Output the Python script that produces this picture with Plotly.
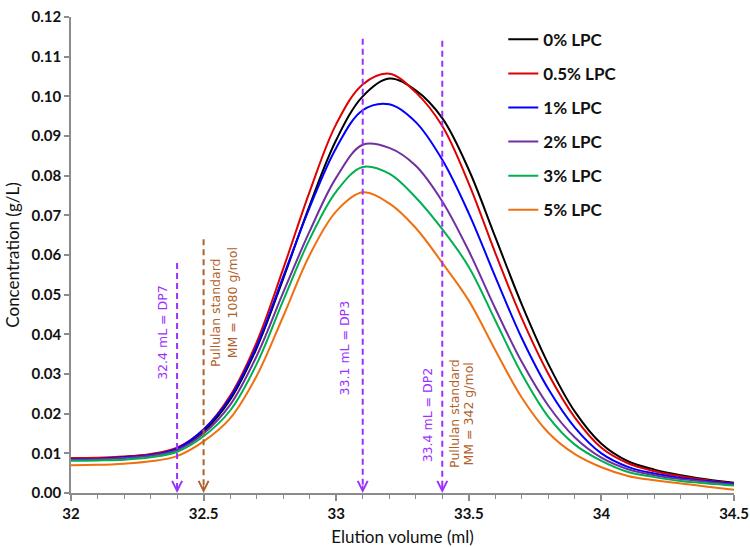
import plotly.graph_objects as go

# ---------------- data ----------------
volume = [32.0, 32.1, 32.2, 32.3, 32.4, 32.5, 32.6, 32.7, 32.8, 32.9,
          33.0, 33.1, 33.2, 33.3, 33.4, 33.5, 33.6, 33.7, 33.8, 33.9,
          34.0, 34.1, 34.2, 34.3, 34.4, 34.5]

lpc_0 = [0.0087, 0.0088, 0.0091, 0.0097, 0.0112, 0.0155, 0.0235, 0.0365, 0.0540, 0.0725,
         0.0890, 0.1000, 0.1045, 0.1015, 0.0945, 0.0815, 0.0645, 0.0475, 0.0325, 0.0205,
         0.0124, 0.0080, 0.0059, 0.0045, 0.0034, 0.0026]
lpc_05 = [0.0088, 0.0089, 0.0092, 0.0098, 0.0114, 0.0160, 0.0245, 0.0380, 0.0565, 0.0760,
          0.0930, 0.1030, 0.1057, 0.1010, 0.0925, 0.0780, 0.0605, 0.0440, 0.0300, 0.0190,
          0.0114, 0.0075, 0.0055, 0.0042, 0.0032, 0.0024]
lpc_1 = [0.0085, 0.0086, 0.0090, 0.0096, 0.0112, 0.0160, 0.0240, 0.0370, 0.0545, 0.0720,
         0.0870, 0.0965, 0.0980, 0.0935, 0.0840, 0.0705, 0.0545, 0.0390, 0.0262, 0.0165,
         0.0100, 0.0066, 0.0049, 0.0038, 0.0030, 0.0023]
lpc_2 = [0.0084, 0.0085, 0.0088, 0.0094, 0.0108, 0.0150, 0.0222, 0.0345, 0.0505, 0.0660,
         0.0795, 0.0878, 0.0870, 0.0825, 0.0735, 0.0610, 0.0465, 0.0330, 0.0220, 0.0140,
         0.0089, 0.0060, 0.0045, 0.0035, 0.0028, 0.0021]
lpc_3 = [0.0081, 0.0082, 0.0084, 0.0090, 0.0104, 0.0143, 0.0208, 0.0325, 0.0485, 0.0640,
         0.0760, 0.0822, 0.0805, 0.0745, 0.0665, 0.0570, 0.0435, 0.0300, 0.0192, 0.0122,
         0.0081, 0.0053, 0.0040, 0.0030, 0.0024, 0.0019]
lpc_5 = [0.0070, 0.0071, 0.0074, 0.0080, 0.0093, 0.0130, 0.0188, 0.0295, 0.0445, 0.0600,
         0.0710, 0.0758, 0.0730, 0.0668, 0.0580, 0.0485, 0.0360, 0.0240, 0.0152, 0.0098,
         0.0065, 0.0043, 0.0032, 0.0024, 0.0016, 0.0008]

series_names = ["0% LPC", "0.5% LPC", "1% LPC", "2% LPC", "3% LPC", "5% LPC"]
series_values = [lpc_0, lpc_05, lpc_1, lpc_2, lpc_3, lpc_5]
series_colors = ["#000000", "#e00000", "#0000ff", "#7030a0", "#00b050", "#f07010"]

# marker lines (elution volume, top of dashed line, colour)
marker_vol = [32.4, 32.5, 33.1, 33.4]
marker_top = [0.058, 0.064, 0.1145, 0.114]
PURPLE = "#9b30ff"
BROWN = "#b0602a"
marker_col = [PURPLE, BROWN, PURPLE, PURPLE]

# labels (x, y, text, colour)
label_x = [32.345, 32.545, 32.61, 33.03, 33.345, 33.445, 33.5]
label_y = [0.0405, 0.0455, 0.0480, 0.0365, 0.0195, 0.0200, 0.0200]
label_text = ["32.4 mL = DP7", "Pullulan standard", "MM = 1080 g/mol",
              "33.1 mL = DP3", "33.4 mL = DP2", "Pullulan standard", "MM = 342 g/mol"]
label_col = [PURPLE, BROWN, BROWN, PURPLE, PURPLE, BROWN, BROWN]

# ---------------- figure ----------------
fig = go.Figure()
for name, vals, col in zip(series_names, series_values, series_colors):
    fig.add_trace(go.Scatter(
        x=volume, y=vals, name=name, mode="lines",
        line=dict(color=col, width=2, shape="spline", smoothing=1.0),
        legendgroup=name,
    ))

for v, top, col in zip(marker_vol, marker_top, marker_col):
    fig.add_shape(type="line", x0=v, x1=v, y0=top, y1=0.0008, xref="x", yref="y",
                  line=dict(color=col, width=2, dash="6px,4px"))
    fig.add_annotation(x=v, y=0, xref="x", yref="y", text="", showarrow=True,
                       ax=0, ay=-9, axref="pixel", ayref="pixel",
                       arrowhead=5, arrowsize=1.3, arrowwidth=1.5, arrowcolor=col)

for lx, ly, txt, col in zip(label_x, label_y, label_text, label_col):
    fig.add_annotation(x=lx, y=ly, xref="x", yref="y", text=txt, showarrow=False,
                       textangle=-90,
                       font=dict(family="DejaVu Sans", size=12.5, color=col))

fig.update_layout(
    width=750, height=547,
    margin=dict(l=71, r=16, t=17, b=54),
    paper_bgcolor="white", plot_bgcolor="white",
    showlegend=True,
    legend=dict(x=0.652, y=0.99, xanchor="left", yanchor="top",
                bgcolor="rgba(0,0,0,0)", tracegroupgap=9, itemwidth=30,
                font=dict(family="Lato", size=17, color="#111", weight="bold")),
    xaxis=dict(
        range=[32, 34.5], dtick=0.5, tick0=32, automargin=False,
        showgrid=False, zeroline=False,
        showline=True, linecolor="#8c8c8c", linewidth=1.5,
        ticks="outside", ticklen=6, tickcolor="#8c8c8c", tickwidth=1.5,
        minor=dict(dtick=0.1, ticks="outside", ticklen=4, tickcolor="#8c8c8c", tickwidth=1),
        tickfont=dict(family="Lato", size=15, color="#111", weight="bold"),
        title=dict(text="Elution volume (ml)", standoff=10,
                   font=dict(family="Lato", size=17, color="#111")),
    ),
    yaxis=dict(
        range=[0, 0.12], dtick=0.01, tick0=0, tickformat=".2f", automargin=False,
        showgrid=False, zeroline=False,
        showline=True, linecolor="#8c8c8c", linewidth=1.5,
        ticks="outside", ticklen=5, tickcolor="#8c8c8c", tickwidth=1.5,
        tickfont=dict(family="Lato", size=15, color="#111", weight="bold"),
        title=dict(text="Concentration (g/L)", standoff=8,
                   font=dict(family="Lato", size=17, color="#111")),
    ),
)

fig.write_html("out.html")
